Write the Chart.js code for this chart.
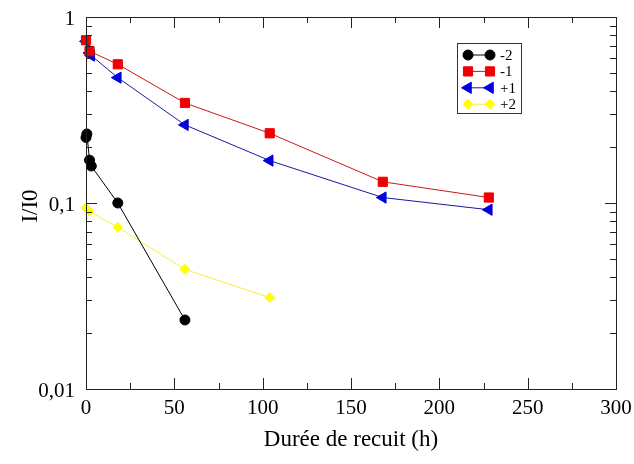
<!DOCTYPE html>
<html>
<head>
<meta charset="utf-8">
<script src="https://cdn.jsdelivr.net/npm/chart.js"></script>
<style>
  body { margin: 0; background: #fff; }
  canvas { display: block; }
</style>
</head>
<body>
<canvas id="myChart" width="634" height="464"></canvas>
<script>
const ctx = document.getElementById('myChart');
const serif = '"Liberation Serif", "Times New Roman", serif';

// annealing times (h) and I/I0 values, one pair of arrays per series
const hoursM2 = [0, 0.5, 2, 3, 18, 56];
const valuesM2 = [0.225, 0.235, 0.17, 0.158, 0.1, 0.0235];
const hoursM1 = [0, 2, 18, 56, 104, 168, 228];
const valuesM1 = [0.75, 0.655, 0.557, 0.345, 0.237, 0.13, 0.107];
const hoursP1 = [0, 2, 3, 18, 56, 104, 168, 228];
const valuesP1 = [0.74, 0.64, 0.62, 0.472, 0.263, 0.169, 0.107, 0.092];
const hoursP2 = [0, 2, 18, 56, 104];
const valuesP2 = [0.094, 0.09, 0.074, 0.044, 0.031];

const seriesLabels = ['-2', '-1', '+1', '+2'];
const markerColors = ['#000000', '#f00000', '#0000dd', '#ffff00'];
const lineColors = ['#000000', '#c81818', '#1a1aa0', '#f4f040'];
const pointStyles = ['circle', 'rect', 'triangle', 'rectRot'];
const pointRadius = [5, 6.5, 6.5, 5];
const pointRotation = [0, 0, -90, 0];

const xTicks = [0, 50, 100, 150, 200, 250, 300];
const yTicks = [0.01, 0.1, 1];

function toPoints(xs, ys) {
    return xs.map((x, i) => ({x: x, y: ys[i]}));
}

const allSeries = [
    toPoints(hoursM2, valuesM2),
    toPoints(hoursM1, valuesM1),
    toPoints(hoursP1, valuesP1),
    toPoints(hoursP2, valuesP2)
];

const datasets = allSeries.map((data, i) => ({
    label: seriesLabels[i],
    data: data,
    borderColor: lineColors[i],
    borderWidth: 1,
    backgroundColor: markerColors[i],
    pointBackgroundColor: markerColors[i],
    pointBorderColor: markerColors[i],
    pointBorderWidth: 1,
    pointStyle: pointStyles[i],
    pointRadius: pointRadius[i],
    pointRotation: pointRotation[i],
    tension: 0,
    clip: false
}));

function drawMarker(c, i, x, y) {
    if (Chart.helpers && Chart.helpers.drawPoint) {
        c.fillStyle = markerColors[i];
        c.strokeStyle = markerColors[i];
        c.lineWidth = 1;
        Chart.helpers.drawPoint(c, {pointStyle: pointStyles[i], radius: pointRadius[i], rotation: pointRotation[i], borderWidth: 1}, x, y);
    }
}

// frame, inner ticks on all four sides, axis titles and the boxed legend
const frameAndLegend = {
    id: 'frameAndLegend',
    afterDraw(chart) {
        const c = chart.ctx;
        const {left, right, top, bottom} = chart.chartArea;
        const xs = chart.scales.x, ys = chart.scales.y;
        c.save();
        c.strokeStyle = '#222';
        c.lineWidth = 1;
        c.strokeRect(Math.round(left) + 0.5, Math.round(top) + 0.5, Math.round(right - left), Math.round(bottom - top));

        c.beginPath();
        for (let v = 0; v <= 300; v += 25) {
            const px = Math.round(xs.getPixelForValue(v)) + 0.5;
            const len = v % 50 === 0 ? 11 : 6;
            c.moveTo(px, bottom); c.lineTo(px, bottom - len);
            c.moveTo(px, top); c.lineTo(px, top + len);
        }
        for (let d = 0.01; d < 1; d *= 10) {
            for (let m = 1; m <= 10; m++) {
                const v = d * m;
                const py = Math.round(ys.getPixelForValue(v)) + 0.5;
                const len = (m === 1 || m === 10) ? 11 : 6;
                c.moveTo(left, py); c.lineTo(left + len, py);
                c.moveTo(right, py); c.lineTo(right - len, py);
            }
        }
        c.stroke();

        // axis titles
        c.fillStyle = '#000';
        c.font = '23px ' + serif;
        c.textAlign = 'center';
        c.textBaseline = 'middle';
        c.fillText('Durée de recuit (h)', (left + right) / 2, 440);
        c.save();
        c.translate(31, (top + bottom) / 2 + 3);
        c.rotate(-Math.PI / 2);
        c.fillText('I/I0', 0, 0);
        c.restore();

        // legend box
        c.strokeStyle = '#333';
        c.strokeRect(457.5, 43.5, 64, 70);
        c.font = '15px ' + serif;
        c.textAlign = 'left';
        seriesLabels.forEach((lab, i) => {
            const y = 55 + i * 16.4;
            c.strokeStyle = lineColors[i];
            c.lineWidth = 1;
            c.beginPath();
            c.moveTo(468, y); c.lineTo(490, y);
            c.stroke();
            drawMarker(c, i, 468, y);
            drawMarker(c, i, 490, y);
            c.fillStyle = '#000';
            c.fillText(lab, 500, y + 1);
        });
        c.restore();
    }
};

const options = {
    responsive: false,
    animation: false,
    devicePixelRatio: 1,
    layout: {padding: {top: 17, right: 18, left: 0, bottom: 0}},
    plugins: {
        legend: {display: false},
        tooltip: {enabled: false}
    },
    scales: {
        x: {
            type: 'linear',
            min: 0,
            max: 300,
            afterBuildTicks: (scale) => { scale.ticks = xTicks.map(v => ({value: v})); },
            afterFit: (scale) => { scale.height = 75; },
            grid: {display: false},
            border: {display: false},
            ticks: {
                color: '#000',
                font: {family: serif, size: 21},
                padding: -1,
                maxRotation: 0,
                autoSkip: false
            }
        },
        y: {
            type: 'logarithmic',
            min: 0.01,
            max: 1,
            afterBuildTicks: (scale) => { scale.ticks = yTicks.map(v => ({value: v})); },
            afterFit: (scale) => { scale.width = 86; },
            grid: {display: false},
            border: {display: false},
            ticks: {
                color: '#000',
                font: {family: serif, size: 21},
                padding: 3,
                labelOffset: 2,
                autoSkip: false,
                callback: (v) => String(v).replace('.', ',')
            }
        }
    }
};

new Chart(ctx, {
    type: 'line',
    data: {datasets},
    options: options,
    plugins: [frameAndLegend]
});
</script>
</body>
</html>
